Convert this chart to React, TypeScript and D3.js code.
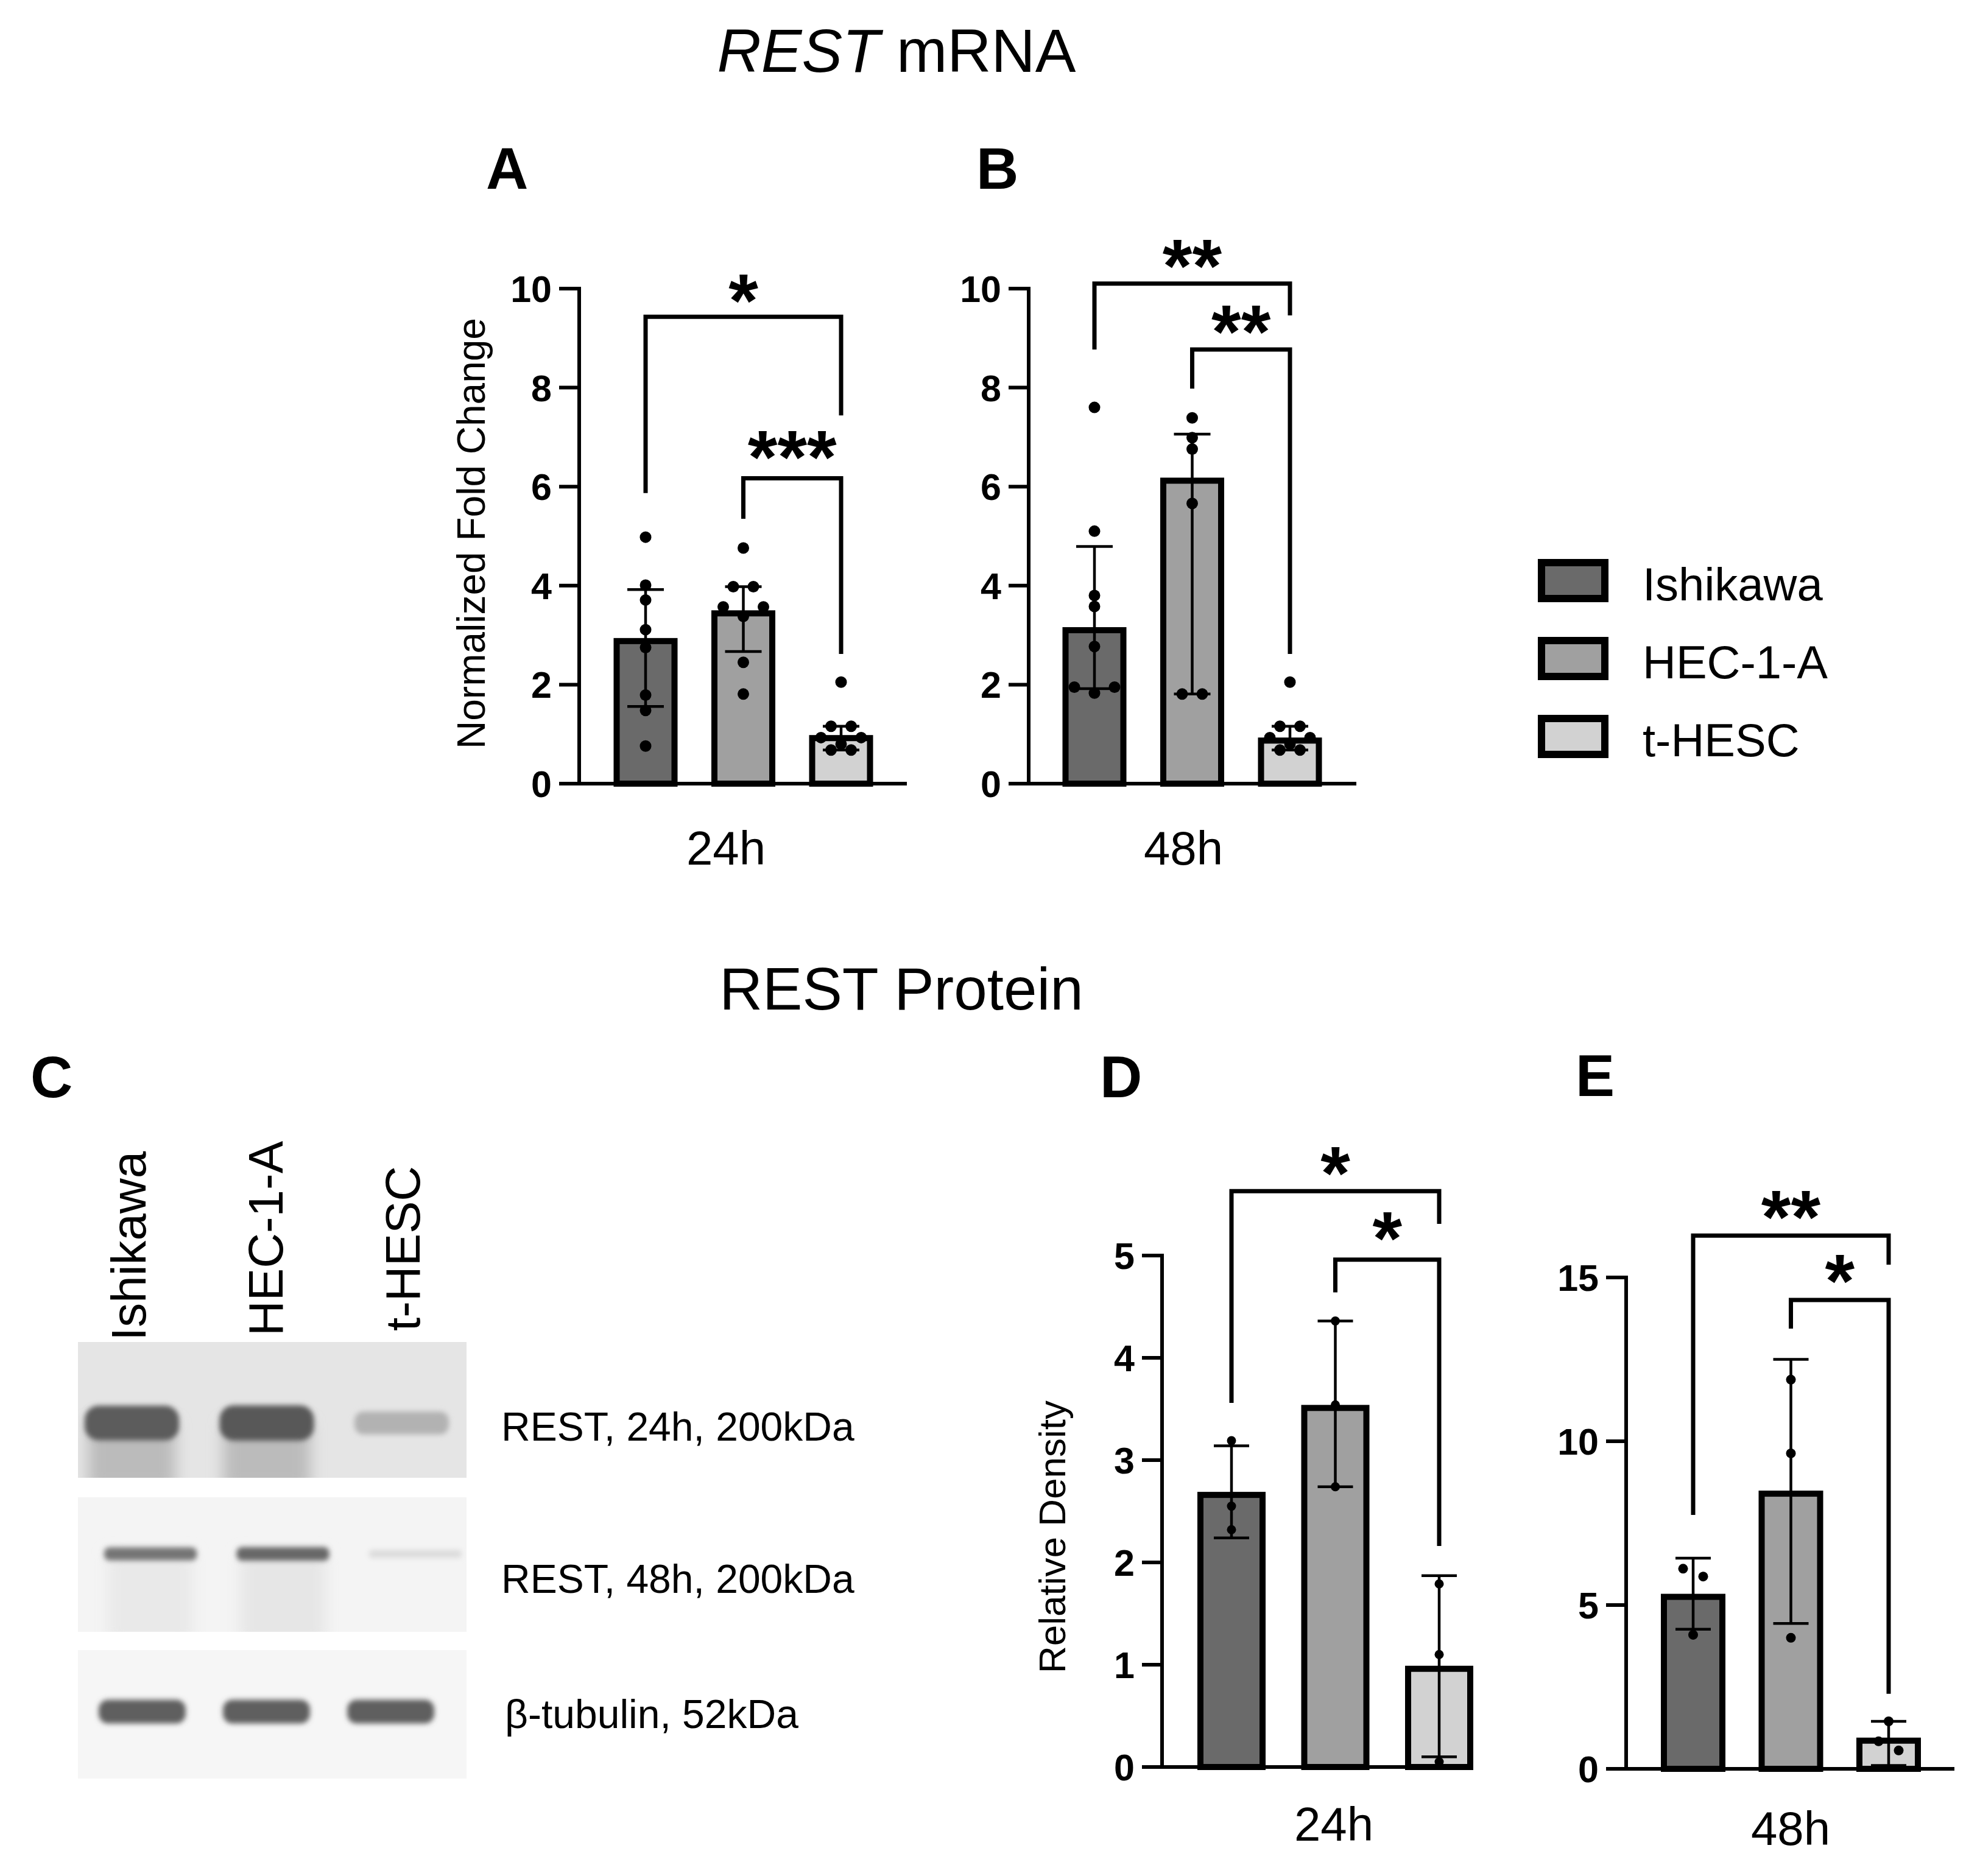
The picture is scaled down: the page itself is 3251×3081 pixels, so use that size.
import React from 'react';
import * as d3 from 'd3';

const FONT = "'Liberation Sans', Arial, Helvetica, sans-serif";

// ---------- categories ----------
const cellLines = ['Ishikawa', 'HEC-1-A', 't-HESC'];
const fills = ['#6a6a6a', '#a0a0a0', '#d2d2d2'];

// ---------- Panel A : REST mRNA, 24h ----------
const aTicks = [0, 2, 4, 6, 8, 10];
const aBars = [2.88, 3.44, 0.92];
const aErrLow = [1.56, 2.67, 0.68];
const aErrHigh = [3.92, 3.98, 1.16];
const aIshikawa = [4.98, 4.01, 3.71, 3.11, 2.75, 1.79, 1.48, 0.76];
const aHEC = [4.76, 3.98, 3.98, 3.57, 3.57, 3.38, 2.45, 1.81];
const aTHESC = [2.05, 1.16, 1.16, 0.93, 0.93, 0.8, 0.68, 0.68];
const aBrackets = [
  { from: 0, to: 2, line: 9.43, leftEnd: 5.87, rightEnd: 7.44, label: '*', labelAt: 10.05 },
  { from: 1, to: 2, line: 6.17, leftEnd: 5.35, rightEnd: 2.62, label: '***', labelAt: 6.89 },
];

// ---------- Panel B : REST mRNA, 48h ----------
const bTicks = [0, 2, 4, 6, 8, 10];
const bBars = [3.1, 6.12, 0.87];
const bErrLow = [1.92, 1.81, 0.68];
const bErrHigh = [4.79, 7.06, 1.16];
const bIshikawa = [7.6, 5.1, 3.8, 3.58, 2.77, 1.95, 1.95, 1.83];
const bHEC = [7.39, 6.99, 6.76, 5.66, 1.81, 1.81];
const bTHESC = [2.05, 1.16, 1.16, 0.93, 0.93, 0.8, 0.68, 0.68];
const bBrackets = [
  { from: 0, to: 2, line: 10.1, leftEnd: 8.77, rightEnd: 9.46, label: '**', labelAt: 10.76 },
  { from: 1, to: 2, line: 8.77, leftEnd: 7.98, rightEnd: 2.62, label: '**', labelAt: 9.43 },
];

// ---------- Panel D : REST protein, 24h ----------
const dTicks = [0, 1, 2, 3, 4, 5];
const dBars = [2.66, 3.51, 0.96];
const dErrLow = [2.24, 2.74, 0.1];
const dErrHigh = [3.14, 4.36, 1.87];
const dIshikawa = [3.19, 2.55, 2.32];
const dHEC = [4.36, 3.54, 2.74];
const dTHESC = [1.79, 1.1, 0.05];
const dBrackets = [
  { from: 0, to: 2, line: 5.63, leftEnd: 3.56, rightEnd: 5.31, label: '*', labelAt: 5.95 },
  { from: 1, to: 2, line: 4.96, leftEnd: 4.64, rightEnd: 2.16, label: '*', labelAt: 5.31 },
];

// ---------- Panel E : REST protein, 48h ----------
const eTicks = [0, 5, 10, 15];
const eBars = [5.25, 8.4, 0.86];
const eErrLow = [4.26, 4.44, 0.1];
const eErrHigh = [6.43, 12.5, 1.45];
const eIshikawa = [6.11, 5.87, 4.09];
const eHEC = [11.88, 9.63, 4.0];
const eTHESC = [1.45, 0.84, 0.56];
const eBrackets = [
  { from: 0, to: 2, line: 16.28, leftEnd: 7.75, rightEnd: 15.39, label: '**', labelAt: 17.3 },
  { from: 1, to: 2, line: 14.31, leftEnd: 13.44, rightEnd: 2.29, label: '*', labelAt: 15.35 },
];

// ---------- Panel C : western blot band intensities (0 = none, 1 = saturated) ----------
const blotLabels = ['REST, 24h, 200kDa', 'REST, 48h, 200kDa', 'β-tubulin, 52kDa'];
const rest24Intensity = [0.97, 1.0, 0.36];
const rest48Intensity = [0.82, 0.9, 0.16];
const tubulinIntensity = [0.96, 0.96, 0.96];
const rest24Smear = [0.3, 0.3, 0.0];
const rest48Smear = [0.07, 0.09, 0.0];
const tubulinSmear = [0.0, 0.0, 0.0];

type Bracket = { from: number; to: number; line: number; leftEnd: number; rightEnd: number; label: string; labelAt: number };

type Layout = {
  axisX: number; axisEnd: number; y0: number; y1: number;
  firstC: number; lastC: number; barW: number; capW: number; dotR: number; spacing: number;
  xLabel: string; xLabelX: number; xLabelY: number;
  yLabel?: string; yLabelX?: number; yLabelY?: number; yLabelSize?: number;
};

function swarm(values: number[], y: (v: number) => number, thresh: number, spacing: number) {
  const sorted = [...values].sort((a, b) => b - a);
  const out: { v: number; dx: number }[] = [];
  let k = 0;
  while (k < sorted.length) {
    const row = [sorted[k]];
    let j = k + 1;
    while (j < sorted.length && Math.abs(y(sorted[j]) - y(sorted[k])) < thresh) {
      row.push(sorted[j]);
      j++;
    }
    const n = row.length;
    const offs = d3
      .range(n)
      .map((i) => (i - (n - 1) / 2) * spacing)
      .sort((a, b) => Math.abs(b) - Math.abs(a) || a - b);
    row.forEach((v, i) => out.push({ v, dx: offs[i] }));
    k = j;
  }
  return out;
}

function BarPanel(props: {
  L: Layout; domainMax: number; ticks: number[]; bars: number[]; errLow: number[]; errHigh: number[];
  points: number[][]; brackets: Bracket[];
}) {
  const { L, domainMax, ticks, bars, errLow, errHigh, points, brackets } = props;
  const y = d3.scaleLinear().domain([0, domainMax]).range([L.y0, L.y1]);
  const x = d3.scalePoint<string>().domain(cellLines).range([L.firstC, L.lastC]);
  const tickLen = 33;
  const starSize = 125;
  return (
    <g>
      {/* bars */}
      {cellLines.map((c, i) => (
        <rect
          key={'bar' + c}
          x={(x(c) as number) - L.barW / 2}
          y={y(bars[i])}
          width={L.barW}
          height={y(0) - y(bars[i])}
          fill={fills[i]}
          stroke="#000"
          strokeWidth={10}
        />
      ))}
      {/* axes */}
      <line x1={L.axisX} x2={L.axisX} y1={y(domainMax) - 3} y2={y(0) + 3} stroke="#000" strokeWidth={6} />
      <line x1={L.axisX} x2={L.axisEnd} y1={y(0)} y2={y(0)} stroke="#000" strokeWidth={6} />
      {ticks.map((t) => (
        <g key={'t' + t}>
          <line x1={L.axisX - tickLen} x2={L.axisX} y1={y(t)} y2={y(t)} stroke="#000" strokeWidth={6} />
          <text
            x={L.axisX - tickLen - 12}
            y={y(t)}
            dy="0.36em"
            textAnchor="end"
            fontSize={61}
            fontWeight="bold"
          >
            {t}
          </text>
        </g>
      ))}
      {/* error bars */}
      {cellLines.map((c, i) => {
        const cx = x(c) as number;
        return (
          <g key={'err' + c} stroke="#000" strokeWidth={4.5}>
            <line x1={cx} x2={cx} y1={y(errLow[i])} y2={y(errHigh[i])} />
            <line x1={cx - L.capW / 2} x2={cx + L.capW / 2} y1={y(errHigh[i])} y2={y(errHigh[i])} />
            <line x1={cx - L.capW / 2} x2={cx + L.capW / 2} y1={y(errLow[i])} y2={y(errLow[i])} />
          </g>
        );
      })}
      {/* points */}
      {cellLines.map((c, i) => {
        const cx = x(c) as number;
        return swarm(points[i], y, 16, L.spacing).map((p, j) => (
          <circle key={'p' + c + j} cx={cx + p.dx} cy={y(p.v)} r={L.dotR} fill="#000" />
        ));
      })}
      {/* significance brackets */}
      {brackets.map((b, k) => {
        const xl = x(cellLines[b.from]) as number;
        const xr = x(cellLines[b.to]) as number;
        return (
          <g key={'br' + k}>
            <path
              d={`M${xl},${y(b.leftEnd)}V${y(b.line)}H${xr}V${y(b.rightEnd)}`}
              fill="none"
              stroke="#000"
              strokeWidth={7}
              strokeLinejoin="miter"
            />
            <text
              x={(xl + xr) / 2}
              y={y(b.labelAt) + 0.54 * starSize}
              textAnchor="middle"
              fontSize={starSize}
              fontWeight="bold"
            >
              {b.label}
            </text>
          </g>
        );
      })}
      {/* axis titles */}
      <text x={L.xLabelX} y={L.xLabelY} textAnchor="middle" fontSize={78}>
        {L.xLabel}
      </text>
      {L.yLabel && (
        <text
          transform={`translate(${L.yLabelX},${L.yLabelY}) rotate(-90)`}
          textAnchor="middle"
          fontSize={L.yLabelSize}
        >
          {L.yLabel}
        </text>
      )}
    </g>
  );
}

type BlotRow = {
  top: number; height: number; bg: string; laneStart: number; laneEnd: number;
  bandCY: number; bandH: number; labelX: number; labelY: number;
};

function Blot() {
  const panelX0 = 128;
  const panelX1 = 766;
  const rows: BlotRow[] = [
    { top: 2204, height: 223, bg: '#e5e5e5', laneStart: 139, laneEnd: 737, bandCY: 2337, bandH: 58, labelX: 823, labelY: 2366 },
    { top: 2459, height: 221, bg: '#f4f4f4', laneStart: 171, laneEnd: 758, bandCY: 2552, bandH: 24, labelX: 823, labelY: 2616 },
    { top: 2710, height: 211, bg: '#f6f6f6', laneStart: 162, laneEnd: 713, bandCY: 2811, bandH: 40, labelX: 829, labelY: 2838 },
  ];
  const intensities = [rest24Intensity, rest48Intensity, tubulinIntensity];
  const smears = [rest24Smear, rest48Smear, tubulinSmear];
  const laneLabelX = d3.scalePoint<string>().domain(cellLines).range([239, 689]);
  const laneLabelBottom = [2202, 2194, 2186];
  return (
    <g>
      <defs>
        <filter id="bandBlur" x="-20%" y="-100%" width="140%" height="300%">
          <feGaussianBlur stdDeviation="4" />
        </filter>
        <filter id="smearBlur" x="-20%" y="-50%" width="140%" height="200%">
          <feGaussianBlur stdDeviation="12" />
        </filter>
        {rows.map((r, k) => (
          <clipPath id={'blotClip' + k} key={'cp' + k}>
            <rect x={panelX0} y={r.top} width={panelX1 - panelX0} height={r.height} />
          </clipPath>
        ))}
      </defs>
      {cellLines.map((c, i) => (
        <text
          key={'ll' + c}
          transform={`translate(${laneLabelX(c)},${laneLabelBottom[i]}) rotate(-90)`}
          fontSize={80}
        >
          {c}
        </text>
      ))}
      {rows.map((r, k) => {
        const lane = d3.scaleBand<string>().domain(cellLines).range([r.laneStart, r.laneEnd]).paddingInner(0.3);
        const dark = d3.interpolateRgb(r.bg, '#585858');
        return (
          <g key={'row' + k}>
            <rect x={panelX0} y={r.top} width={panelX1 - panelX0} height={r.height} fill={r.bg} />
            <g clipPath={`url(#blotClip${k})`}>
              {cellLines.map((c, i) =>
                smears[k][i] > 0 ? (
                  <rect
                    key={'sm' + c}
                    x={(lane(c) as number) + 6}
                    y={r.bandCY}
                    width={lane.bandwidth() - 12}
                    height={r.top + r.height - r.bandCY + 20}
                    fill={dark(smears[k][i])}
                    filter="url(#smearBlur)"
                  />
                ) : null
              )}
              {cellLines.map((c, i) => {
                const h = r.bandH * (0.45 + 0.55 * intensities[k][i]);
                return (
                  <rect
                    key={'bd' + c}
                    x={lane(c) as number}
                    y={r.bandCY - h / 2}
                    width={lane.bandwidth()}
                    height={h}
                    rx={h / 2.5}
                    fill={dark(intensities[k][i])}
                    filter="url(#bandBlur)"
                  />
                );
              })}
            </g>
            <text x={r.labelX} y={r.labelY} fontSize={66}>
              {blotLabels[k]}
            </text>
          </g>
        );
      })}
    </g>
  );
}

function Legend() {
  const top0 = 924;
  const step = 128;
  return (
    <g>
      {cellLines.map((c, i) => (
        <g key={'lg' + c}>
          <rect x={2531} y={top0 + i * step} width={104} height={59} fill={fills[i]} stroke="#000" strokeWidth={12} />
          <text x={2697} y={top0 + i * step + 62} fontSize={76}>
            {c}
          </text>
        </g>
      ))}
    </g>
  );
}

const layoutA: Layout = {
  axisX: 951, axisEnd: 1489, y0: 1287, y1: 474, firstC: 1060, lastC: 1381, barW: 95, capW: 60, dotR: 9.5, spacing: 33,
  xLabel: '24h', xLabelX: 1192, xLabelY: 1420,
  yLabel: 'Normalized Fold Change', yLabelX: 796, yLabelY: 876, yLabelSize: 64,
};
const layoutB: Layout = {
  axisX: 1689, axisEnd: 2227, y0: 1287, y1: 474, firstC: 1797, lastC: 2118, barW: 95, capW: 60, dotR: 9.5, spacing: 33,
  xLabel: '48h', xLabelX: 1943, xLabelY: 1420,
};
const layoutD: Layout = {
  axisX: 1908, axisEnd: 2413, y0: 2902, y1: 2062, firstC: 2022, lastC: 2363, barW: 102, capW: 58, dotR: 7.5, spacing: 33,
  xLabel: '24h', xLabelX: 2190, xLabelY: 3023,
  yLabel: 'Relative Density', yLabelX: 1749, yLabelY: 2524, yLabelSize: 62,
};
const layoutE: Layout = {
  axisX: 2670, axisEnd: 3209, y0: 2905, y1: 2098, firstC: 2780, lastC: 3101, barW: 96, capW: 58, dotR: 8, spacing: 33,
  xLabel: '48h', xLabelX: 2940, xLabelY: 3030,
};

export default function App() {
  return (
    <svg
      width={3251}
      height={3081}
      style={{ position: 'absolute', left: 0, top: 0, display: 'block' }}
      fontFamily={FONT}
    >
      <rect width={3251} height={3081} fill="#fff" />
      {/* titles */}
      <text x={1472} y={118} textAnchor="middle" fontSize={100}>
        <tspan fontStyle="italic">REST</tspan> mRNA
      </text>
      <text x={1480} y={1658} textAnchor="middle" fontSize={98}>
        REST Protein
      </text>
      {/* panel letters */}
      <g fontSize={96} fontWeight="bold">
        <text x={798} y={310}>A</text>
        <text x={1603} y={310}>B</text>
        <text x={50} y={1802}>C</text>
        <text x={1806} y={1802}>D</text>
        <text x={2587} y={1800}>E</text>
      </g>
      <BarPanel L={layoutA} domainMax={10} ticks={aTicks} bars={aBars} errLow={aErrLow} errHigh={aErrHigh}
        points={[aIshikawa, aHEC, aTHESC]} brackets={aBrackets} />
      <BarPanel L={layoutB} domainMax={10} ticks={bTicks} bars={bBars} errLow={bErrLow} errHigh={bErrHigh}
        points={[bIshikawa, bHEC, bTHESC]} brackets={bBrackets} />
      <BarPanel L={layoutD} domainMax={5} ticks={dTicks} bars={dBars} errLow={dErrLow} errHigh={dErrHigh}
        points={[dIshikawa, dHEC, dTHESC]} brackets={dBrackets} />
      <BarPanel L={layoutE} domainMax={15} ticks={eTicks} bars={eBars} errLow={eErrLow} errHigh={eErrHigh}
        points={[eIshikawa, eHEC, eTHESC]} brackets={eBrackets} />
      <Legend />
      <Blot />
    </svg>
  );
}
